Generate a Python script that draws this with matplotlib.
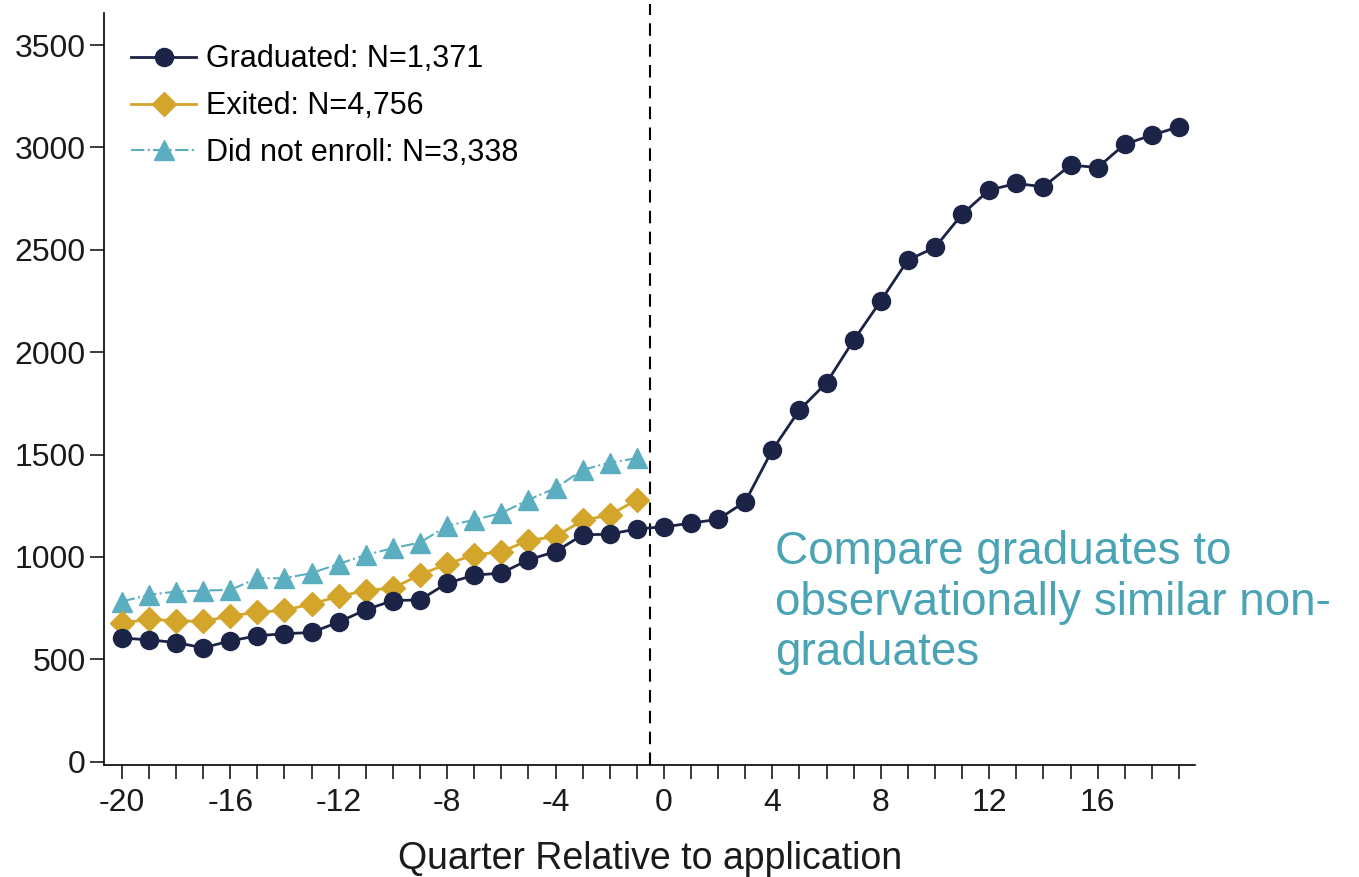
import numpy as np
import matplotlib
matplotlib.use("Agg")
import matplotlib.pyplot as plt

plt.rcParams['font.family'] = ['Liberation Sans', 'DejaVu Sans']
plt.rcParams['axes.unicode_minus'] = False

# quarters relative to application
q_grad = list(range(-20, 20))
q_pre = list(range(-20, 0))

graduated = [604, 595, 582, 556, 590, 615, 625, 631, 682, 742,
             787, 790, 872, 911, 921, 986, 1026, 1108, 1111, 1137,
             1147, 1165, 1184, 1270, 1523, 1718, 1851, 2059, 2251, 2450,
             2512, 2674, 2792, 2824, 2808, 2914, 2902, 3016, 3060, 3101]
exited = [677, 696, 688, 685, 712, 730, 739, 771, 807, 836,
          848, 913, 966, 1010, 1026, 1080, 1100, 1178, 1205, 1279]
not_enrolled = [782, 815, 831, 836, 839, 896, 896, 921, 966, 1010,
                1043, 1070, 1152, 1181, 1214, 1279, 1336, 1425, 1461, 1482]

labels = ["Graduated: N=1,371", "Exited: N=4,756", "Did not enroll: N=3,338"]
xticks = list(range(-20, 20, 4))
yticks = list(range(0, 3501, 500))

navy = "#1b2346"
gold = "#d4a52b"
teal = "#5aaebf"

fig = plt.figure(figsize=(13.59, 8.77), dpi=100)
ax = fig.add_axes([0.0765, 0.128, 0.803, 0.857])

ax.plot(q_grad, graduated, color=navy, lw=2, marker='o', ms=13,
        label=labels[0], zorder=3)
ax.plot(q_pre, exited, color=gold, lw=2, marker='D', ms=12,
        label=labels[1], zorder=2)
ax.plot(q_pre, not_enrolled, color=teal, lw=1.5, ls='-.', marker='^', ms=14,
        label=labels[2], zorder=1)

# application cut-off
ax.vlines(-0.5, -15, 3700, color='black', lw=1.5, ls=(0, (6, 4)), clip_on=False)

ax.set_xlim(-20.66, 19.6)
ax.set_ylim(-15, 3656)
ax.set_xticks(xticks)
ax.set_xticks(range(-20, 20), minor=True)
ax.set_yticks(yticks)
ax.tick_params(axis='both', which='both', direction='out', length=10, width=1.2,
               labelsize=23, colors='#1a1a1a')
ax.tick_params(axis='x', pad=7)
ax.tick_params(axis='y', pad=3)

for s in ['top', 'right']:
    ax.spines[s].set_visible(False)
for s in ['left', 'bottom']:
    ax.spines[s].set_linewidth(1.2)

ax.set_xlabel("Quarter Relative to application", fontsize=27, labelpad=16, color='#1a1a1a')

leg = ax.legend(loc='upper left', frameon=False, fontsize=22, handlelength=2.1,
                handletextpad=0.35, bbox_to_anchor=(0.0, 0.995), labelspacing=0.55)

fig.text(0.570, 0.396, "Compare graduates to\nobservationally similar non-\ngraduates",
         fontsize=33, color="#4ba3b6", va='top', ha='left', linespacing=1.2)

fig.savefig("out.png", dpi=100)
